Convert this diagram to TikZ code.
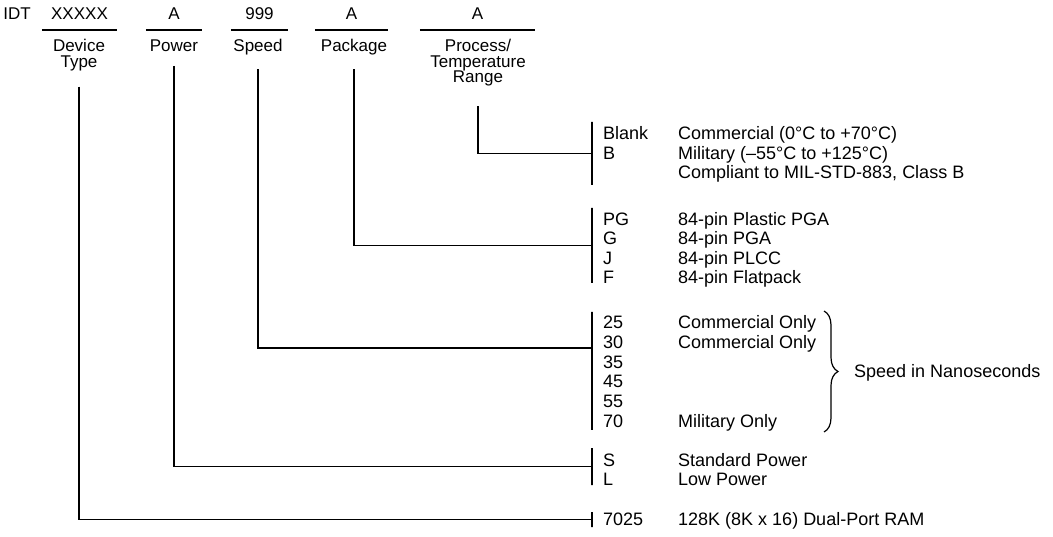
\documentclass[tikz,border=0pt]{standalone}
\usepackage{fontspec}
\setmainfont{Liberation Sans}
\usetikzlibrary{positioning,decorations.pathreplacing}
\tikzset{fld/.style={anchor=south,minimum width=#1,inner sep=0pt,text height=12pt,text depth=10pt,font=\fontsize{17}{17}\selectfont},lbl/.style={anchor=north,align=center,inner sep=0pt,font=\fontsize{17}{15.5}\selectfont},rule/.style={draw=black,line width=1.3pt},lead/.style={rule,shorten <=#1},bk/.style={rule,minimum width=0pt,inner sep=0pt,minimum height=#1},code/.style={anchor=base west,inner sep=0pt,font=\fontsize{18}{18}\selectfont},brc/.style={rule,line width=1.2pt,decorate,decoration={brace,amplitude=14pt}}}
\begin{document}
\begin{tikzpicture}[x=1pt,y=-1pt]
\useasboundingbox (0,0) rectangle (1053,537);
% part number fields
\node[anchor=base,inner sep=0pt,font=\fontsize{17}{17}\selectfont] (idt) at (17,20) {IDT};
\node[fld=75] (fdev) at (79.5,30) {XXXXX};
\node[fld=56] (fpwr) at (174,30) {A};
\node[fld=57] (fspd) at (259.5,30) {999};
\node[fld=73] (fpkg) at (351.5,30) {A};
\node[fld=115] (fproc) at (477.5,30) {A};
\foreach \f in {fdev,fpwr,fspd,fpkg,fproc} \draw[rule] (\f.south west) -- (\f.south east);
\node[lbl] (ldev) at (79,39) {Device\\Type};
\node[lbl] (lpwr) at (174,39.5) {Power};
\node[lbl] (lspd) at (258,39) {Speed};
\node[lbl] (lpkg) at (354,39) {Package};
\node[lbl] (lproc) at (478,39) {Process/\\Temperature\\Range};
% brackets
\node[bk=63] (bproc) at (592,153.5) {};
\node[bk=75] (bpkg) at (592,245.5) {};
\node[bk=118] (bspd) at (592,371) {};
\node[bk=37] (bpwr) at (592,466.5) {};
\node[bk=15] (bdev) at (592,519.5) {};
\coordinate (spdin) at (592,348);
% leaders
\draw[lead=16pt] (ldev.south) |- (bdev);
\draw[lead=14pt] (lpwr.south) |- (bpwr);
\draw[lead=14pt] (lspd.south) |- (spdin);
\draw[lead=14pt] (lpkg.south) |- (bpkg);
\draw[lead=20pt] (lproc.south) |- (bproc);
% codes and meanings
\foreach \y/\c/\d in {133/Blank/{Commercial (0°C to +70°C)},153/B/{Military (–55°C to +125°C)},172/{}/{Compliant to MIL-STD-883, Class B},219/PG/{84-pin Plastic PGA},238/G/{84-pin PGA},258/J/{84-pin PLCC},277/F/{84-pin Flatpack},322/25/{Commercial Only},342/30/{Commercial Only},362/35/{},381/45/{},401/55/{},421/70/{Military Only},460/S/{Standard Power},479/L/{Low Power},519/7025/{128K (8K x 16) Dual-Port RAM}}{
  \node[code] (c\y) at (603,\y+6.3) {\c};
  \node[code] (d\y) at (678,\y+6.3) {\d};
}
\draw[brc] (824,311) -- (824,432);
\node[code,anchor=west] (nsec) at (854,373) {Speed in Nanoseconds};
\end{tikzpicture}
\end{document}
